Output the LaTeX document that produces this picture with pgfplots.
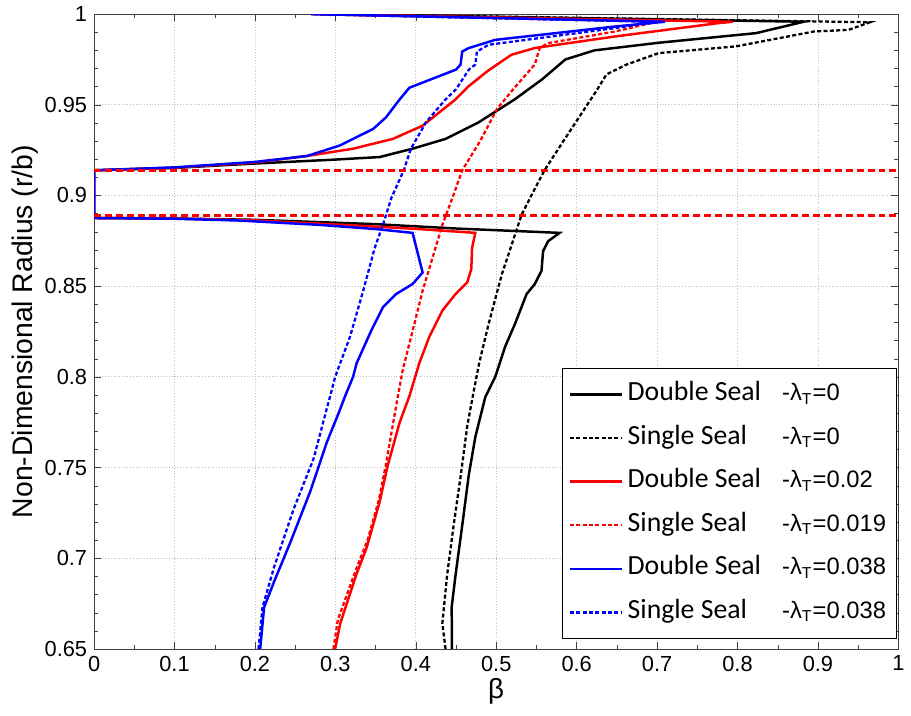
\documentclass[border=0pt]{standalone}
\usepackage{fontspec}
\setmainfont{Liberation Sans}
\newfontfamily\carlito{Carlito}
\usepackage{pgfplots}
\pgfplotsset{compat=1.18}
\newcommand{\leg}[2]{\makebox[78pt][l]{\carlito\fontsize{14}{16}\selectfont #1}{\fontsize{12}{14}\selectfont -λ\textsubscript{T}=#2}}
\begin{document}
\begin{tikzpicture}
\begin{axis}[
  scale only axis,
  width=406pt, height=320.5pt,
  xmin=0, xmax=1, ymin=0.65, ymax=1,
  xtick={0,0.1,...,1.0001},
  ytick={0.65,0.7,0.75,0.8,0.85,0.9,0.95,1},
  minor x tick num=1, minor y tick num=4,
  major tick length=3.5pt, minor tick length=2pt,
  tick align=inside,
  xmajorgrids, ymajorgrids,
  major grid style={densely dotted, black!25},
  axis line style={black!75},
  tick style={black!75},
  /pgf/number format/assume math mode=true,
  /pgf/number format/fixed,
  ticklabel style={font=\fontsize{11}{12}\selectfont},
  xlabel={β},
  ylabel={Non-Dimensional Radius (r/b)},
  xlabel style={font=\fontsize{14}{16}\selectfont, at={(axis description cs:0.5,-0.066)}, anchor=center},
  ylabel style={font=\fontsize{14.3}{16}\selectfont, at={(axis description cs:-0.0862,0.5)}, anchor=center},
  legend cell align=left,
  legend image code/.code={\draw[#1] (0pt,0pt) -- (26.5pt,0pt);},
  legend style={at={(axis description cs:0.9975,0.0156)}, anchor=south east,
    draw=black, fill=white, inner xsep=3pt, inner ysep=3.25pt, row sep=2pt,
    nodes={text height=11pt, text depth=5pt, inner sep=2pt}},
]
\addplot[black, line width=1.25pt] coordinates {
(0.445,0.650) (0.4446,0.673) (0.4495,0.691) (0.4577,0.718) (0.4659,0.746) (0.4741,0.767) (0.4865,0.789) (0.4988,0.800) (0.511,0.8166) (0.5234,0.8293) (0.5378,0.8457) (0.548,0.8512) (0.5563,0.8585) (0.5583,0.8694) (0.5645,0.8748) (0.5788,0.8794) (0.45,0.8818) (0.35,0.8842) (0.20,0.8866) (0.10,0.8873) (0.0,0.8876) (0.0,0.9139) (0.10,0.9152) (0.199,0.9176) (0.30,0.9198) (0.355,0.9212) (0.396,0.9258) (0.437,0.9312) (0.478,0.9403) (0.523,0.953) (0.557,0.964) (0.586,0.975) (0.622,0.980) (0.702,0.9842) (0.823,0.9895) (0.8826,0.9958) (0.28,1.0)};
\addlegendentry{\leg{Double Seal}{0}}
\addplot[black, line width=1.15pt, dash pattern=on 2pt off 1.2pt] coordinates {
(0.437,0.650) (0.433,0.664) (0.439,0.691) (0.447,0.718) (0.456,0.746) (0.464,0.773) (0.472,0.792) (0.479,0.808) (0.4906,0.8293) (0.507,0.8566) (0.5234,0.8785) (0.5316,0.8894) (0.5419,0.8985) (0.560,0.9139) (0.585,0.931) (0.6096,0.9476) (0.625,0.958) (0.637,0.9667) (0.661,0.972) (0.702,0.9785) (0.798,0.9822) (0.895,0.9904) (0.938,0.9913) (0.9647,0.9955) (0.30,1.0)};
\addlegendentry{\leg{Single Seal}{0}}
\addplot[red, line width=1.25pt] coordinates {
(0.2997,0.650) (0.306,0.664) (0.326,0.691) (0.339,0.706) (0.355,0.731) (0.365,0.751) (0.380,0.775) (0.392,0.7893) (0.4043,0.8075) (0.4167,0.822) (0.4331,0.8366) (0.4495,0.8457) (0.4639,0.8521) (0.469,0.8594) (0.470,0.8712) (0.474,0.8794) (0.40,0.8816) (0.30,0.8840) (0.20,0.8863) (0.10,0.8873) (0.0,0.8876) (0.0,0.9139) (0.10,0.9153) (0.20,0.9182) (0.265,0.9218) (0.322,0.9258) (0.3715,0.9312) (0.4085,0.9385) (0.4495,0.953) (0.465,0.960) (0.489,0.9685) (0.501,0.9722) (0.519,0.9776) (0.548,0.9813) (0.6466,0.9876) (0.774,0.9949) (0.794,0.9958) (0.27,1.0)};
\addlegendentry{\leg{Double Seal}{0.02}}
\addplot[red, line width=1.15pt, dash pattern=on 2pt off 1.2pt] coordinates {
(0.2976,0.650) (0.303,0.666) (0.325,0.693) (0.340,0.710) (0.354,0.732) (0.363,0.752) (0.372,0.775) (0.3777,0.7893) (0.3838,0.8039) (0.3962,0.8257) (0.4085,0.8475) (0.4208,0.8657) (0.4331,0.8839) (0.4454,0.8985) (0.4577,0.9139) (0.480,0.930) (0.5008,0.9476) (0.521,0.9585) (0.537,0.9667) (0.548,0.9722) (0.554,0.9813) (0.5645,0.984) (0.6466,0.9903) (0.70,0.9958) (0.27,1.0)};
\addlegendentry{\leg{Single Seal}{0.019}}
\addplot[blue, line width=1.25pt] coordinates {
(0.2065,0.650) (0.2114,0.673) (0.2237,0.687) (0.2442,0.709) (0.2689,0.737) (0.2894,0.764) (0.3058,0.782) (0.312,0.7893) (0.322,0.800) (0.3264,0.8075) (0.3448,0.8257) (0.3592,0.8384) (0.3756,0.8457) (0.396,0.8512) (0.4085,0.8575) (0.396,0.8794) (0.35,0.8815) (0.28,0.8838) (0.18,0.8862) (0.10,0.8872) (0.0,0.8876) (0.0,0.9139) (0.10,0.9155) (0.20,0.9185) (0.265,0.9218) (0.3058,0.9276) (0.347,0.9367) (0.363,0.9431) (0.380,0.953) (0.392,0.9594) (0.45,0.9694) (0.4557,0.9722) (0.4577,0.9794) (0.466,0.9813) (0.4988,0.9858) (0.6466,0.9931) (0.710,0.9958) (0.271,1.0)};
\addlegendentry{\leg{Double Seal}{0.038}}
\addplot[blue, line width=1.15pt, dash pattern=on 2pt off 1.2pt] coordinates {
(0.2044,0.650) (0.2094,0.673) (0.2237,0.695) (0.248,0.727) (0.273,0.755) (0.289,0.782) (0.2935,0.7893) (0.2997,0.800) (0.3181,0.822) (0.3346,0.8475) (0.349,0.8712) (0.3592,0.8839) (0.3695,0.8985) (0.385,0.9139) (0.394,0.9258) (0.4125,0.9403) (0.437,0.953) (0.45,0.9585) (0.466,0.9694) (0.474,0.9722) (0.476,0.9794) (0.4906,0.9831) (0.6466,0.9922) (0.70,0.9958) (0.27,1.0)};
\addlegendentry{\leg{Single Seal}{0.038}}
\addplot[red, line width=1.25pt, dash pattern=on 3.5pt off 2pt, forget plot] coordinates {(0,0.9138) (1,0.9138)};
\addplot[red, line width=1.25pt, dash pattern=on 3.5pt off 2pt, forget plot] coordinates {(0,0.8890) (1,0.8890)};
\end{axis}
\path ([xshift=-47.5pt,yshift=-33.5pt]current axis.south west) rectangle ([xshift=2pt,yshift=7pt]current axis.north east);
\end{tikzpicture}
\end{document}
